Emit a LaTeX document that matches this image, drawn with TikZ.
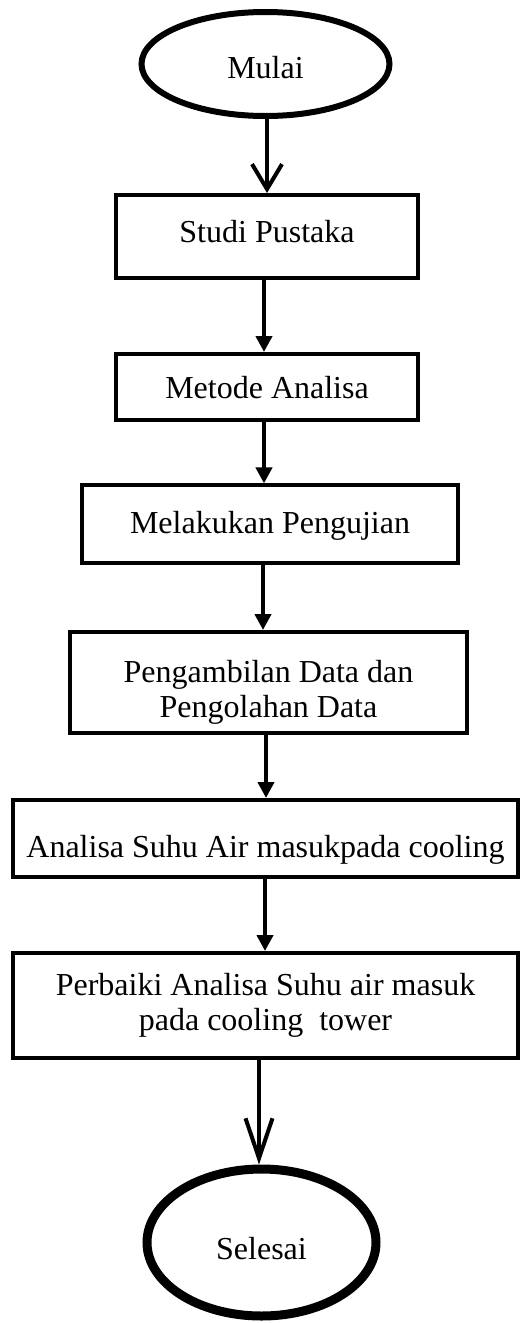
\documentclass[tikz,border=0pt]{standalone}
\usepackage{fontspec}
\setmainfont{Liberation Serif}
\usetikzlibrary{arrows.meta,shapes.geometric}
\tikzset{
  base/.style={draw=black, inner sep=0pt, font=\fontsize{16pt}{17.5pt}\selectfont, fill=white},
  procbox/.style={base, rectangle, line width=2pt},
  termnode/.style={base, ellipse},
  flow/.style={line width=2pt, -{Triangle[length=8pt,width=8pt]}},
}
\begin{document}
\begin{tikzpicture}[x=0.5pt,y=-0.5pt]
\useasboundingbox (0,0) rectangle (520,1323);
\node[termnode, line width=3pt, minimum width=124pt, minimum height=52pt, text height=14.6pt, text depth=0pt] (mulai) at (265.5,64) {Mulai};
\node[procbox, minimum width=151pt, minimum height=41.5pt, text height=10pt, text depth=3.9pt] (studi) at (267,236.5) {Studi Pustaka};
\node[procbox, minimum width=151pt, minimum height=33pt, text height=11.6pt, text depth=0pt] (metode) at (267,387) {Metode Analisa};
\node[procbox, line width=1.6pt, minimum width=188pt, minimum height=39pt, text height=10.6pt, text depth=1pt] (uji) at (270,524) {Melakukan Pengujian};
\node[procbox, minimum width=198.5pt, minimum height=50.5pt, text height=20pt, text depth=20pt] (data) at (268.5,682.5) {\begin{tabular}[t]{@{}c@{}}Pengambilan Data dan\\Pengolahan Data\end{tabular}};
\node[procbox, minimum width=252.5pt, minimum height=38.5pt, text height=19.1pt, text depth=0pt] (analisa) at (265.5,838.5) {Analisa Suhu Air masukpada cooling};
\node[procbox, minimum width=252.5pt, minimum height=52.5pt, text height=12pt, text depth=21.9pt] (perbaiki) at (265.5,1005.5) {\begin{tabular}[t]{@{}c@{}}Perbaiki Analisa Suhu air masuk\\pada cooling\ \ tower\end{tabular}};
\node[termnode, line width=4.5pt, minimum width=114.5pt, minimum height=73.5pt, text height=17.1pt, text depth=0pt] (selesai) at (261.5,1242.5) {Selesai};
\draw[line width=2pt, -{Straight Barb[length=12.5pt,width=15pt,line width=2pt]}] ([xshift=0.75pt]mulai.south) -- ([xshift=0.75pt]mulai.south |- studi.north);
\draw[flow] ([xshift=-1.5pt]studi.south) -- ([xshift=-1.5pt]studi.south |- metode.north);
\draw[flow] ([xshift=-1.5pt]metode.south) -- ([xshift=-1.5pt]metode.south |- uji.north);
\draw[flow] ([xshift=-3.5pt]uji.south) -- ([xshift=-3.5pt]uji.south |- data.north);
\draw[flow] ([xshift=-1.25pt]data.south) -- ([xshift=-1.25pt]data.south |- analisa.north);
\draw[flow] ([xshift=-0.25pt]analisa.south) -- ([xshift=-0.25pt]analisa.south |- perbaiki.north);
\draw[line width=2pt, -{Straight Barb[length=20pt,width=13.5pt,line width=2pt]}] ([xshift=-3.25pt]perbaiki.south) -- ([xshift=-3.25pt]perbaiki.south |- selesai.north);
\end{tikzpicture}
\end{document}
